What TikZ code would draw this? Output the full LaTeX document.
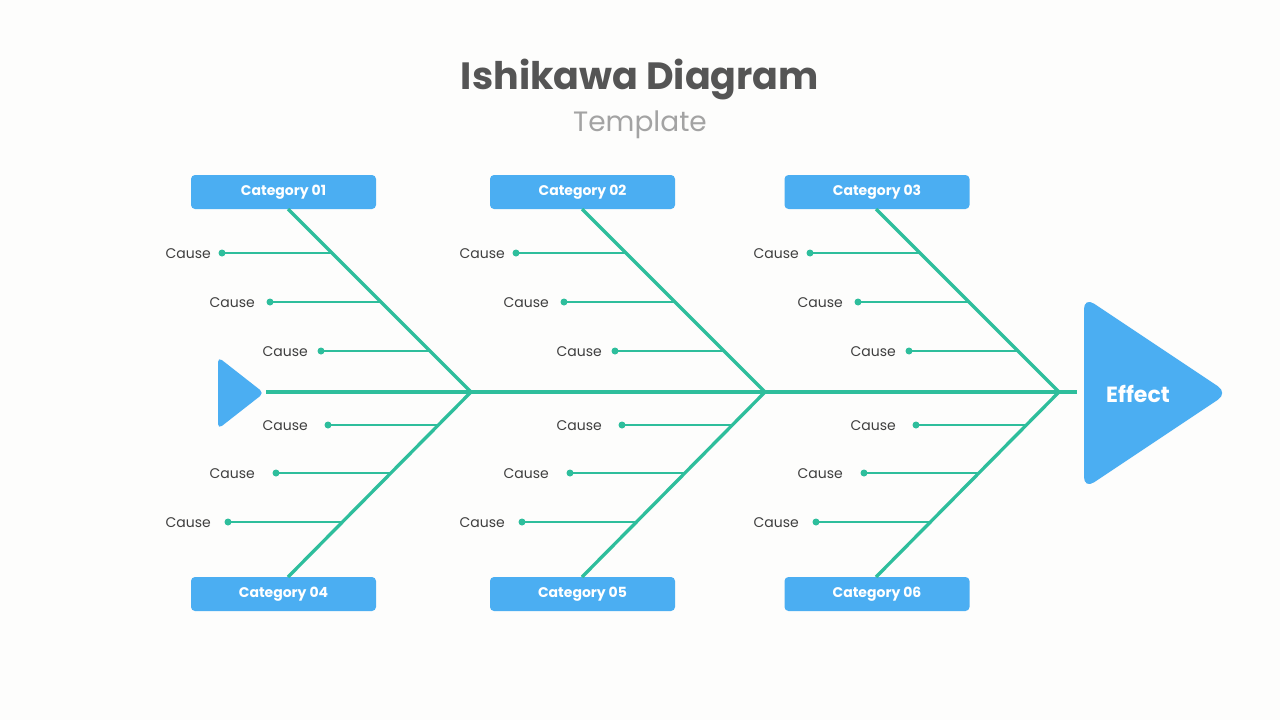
\documentclass[tikz,border=0pt]{standalone}
\usepackage{fontspec}
\setmainfont{Poppins}
\definecolor{bg}{HTML}{FDFDFC}
\definecolor{boxblue}{HTML}{4BAEF2}
\definecolor{bone}{HTML}{2EBE9C}
\definecolor{titlegray}{HTML}{555555}
\definecolor{subgray}{HTML}{A3A3A3}
\definecolor{causetext}{HTML}{3F3F3F}
\begin{document}
\begin{tikzpicture}[x=1pt,y=-1pt,
  catbox/.style={fill=boxblue, rounded corners=4pt, minimum width=185pt, minimum height=34pt, text=white, font=\fontsize{14}{16}\selectfont\bfseries, inner sep=0pt},
  boneline/.style={draw=bone, line width=3.3pt},
  causeline/.style={draw=bone, line width=2.1pt},
  causedot/.style={circle, fill=bone, minimum size=7pt, inner sep=0pt},
  causelabel/.style={anchor=east, text=causetext, font=\fontsize{14}{16}\selectfont, inner sep=0pt},
  headshape/.style={fill=boxblue, rounded corners=12pt}
]
\fill[bg] (0,0) rectangle (1280,720);
\useasboundingbox (0,0) rectangle (1280,720);

\node[text=titlegray, font=\fontsize{38}{44}\selectfont\bfseries] (title) at (640,80) {Ishikawa Diagram};
\node[text=subgray, font=\fontsize{28}{32}\selectfont] (subtitle) at (640,125) {Template};

% fish head and tail
\fill[headshape] (1084,297) -- (1228,393) -- (1084,489) -- cycle;
\node[text=white, font=\fontsize{22}{26}\selectfont\bfseries] (effect) at (1138,394) {Effect};
\fill[boxblue, rounded corners=5pt] (218,357) -- (264,393) -- (218,429) -- cycle;

\coordinate (spineL) at (266,392);
\coordinate (spineR) at (1077,392);
\draw[boneline] (spineL) -- (spineR);

% categories
\node[catbox] (cat1) at (283.5,192) {\raisebox{-1pt}{Category 01}};
\node[catbox] (cat2) at (582.5,192) {\raisebox{-1pt}{Category 02}};
\node[catbox] (cat3) at (877,192) {\raisebox{-1pt}{Category 03}};
\node[catbox] (cat4) at (283.5,594) {\raisebox{-1pt}{Category 04}};
\node[catbox] (cat5) at (582.5,594) {\raisebox{-1pt}{Category 05}};
\node[catbox] (cat6) at (877,594) {\raisebox{-1pt}{Category 06}};

\foreach \k/\top/\bot in {0/cat1/cat4, 1/cat2/cat5, 2/cat3/cat6} {
  \coordinate (J\k) at (471+294*\k,392);
  \coordinate (T\k) at (288+294*\k,209);
  \coordinate (B\k) at (288+294*\k,577);
  \draw[boneline] (T\k) -- (J\k) -- (B\k);
  % top causes
  \foreach \i/\y/\dx/\lx in {1/253/222/211, 2/302/270/255, 3/351/321/308} {
    \node[causedot] (dt\k\i) at (\dx+294*\k,\y) {};
    \coordinate (bt\k\i) at (471+294*\k-392+\y,\y);
    \draw[causeline] (dt\k\i.center) -- (bt\k\i);
    \node[causelabel] (lt\k\i) at (\lx+294*\k,\y+1) {Cause};
  }
  % bottom causes
  \foreach \i/\y/\dx/\lx in {1/425/328/308, 2/473/276/255, 3/522/228/211} {
    \node[causedot] (db\k\i) at (\dx+294*\k,\y) {};
    \coordinate (bb\k\i) at (471+294*\k+392-\y,\y);
    \draw[causeline] (db\k\i.center) -- (bb\k\i);
    \node[causelabel] (lb\k\i) at (\lx+294*\k,\y+1) {Cause};
  }
}
\end{tikzpicture}
\end{document}
